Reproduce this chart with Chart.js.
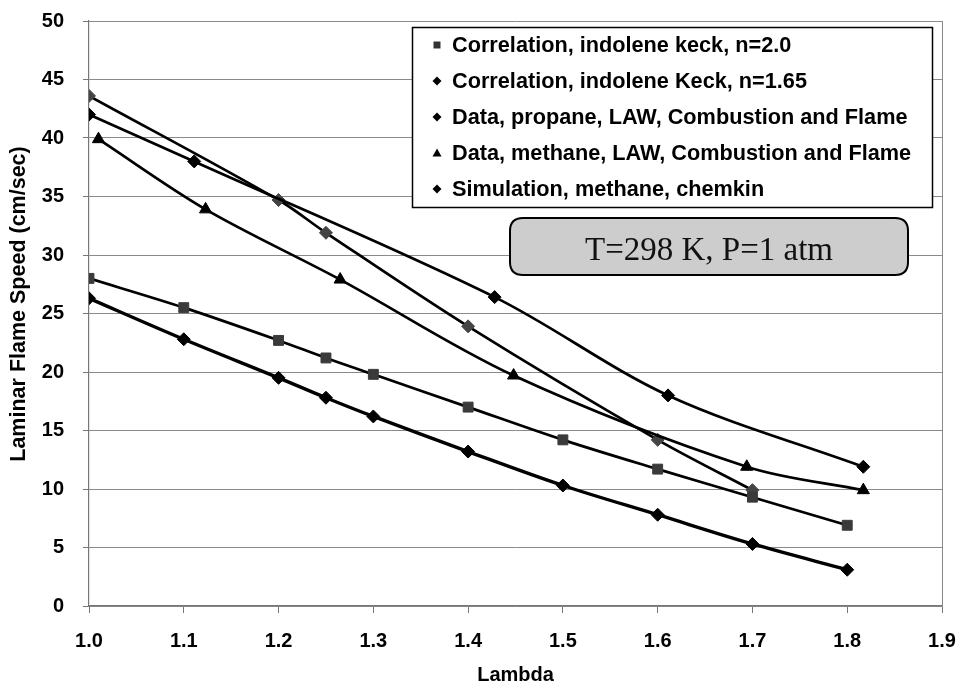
<!DOCTYPE html>
<html>
<head>
<meta charset="utf-8">
<script src="https://cdn.jsdelivr.net/npm/chart.js@4/dist/chart.umd.min.js"></script>
<style>
  html, body { margin: 0; padding: 0; background: #ffffff; }
  #wrap { width: 959px; height: 688px; }
</style>
</head>
<body>
<div id="wrap"><canvas id="c" width="959" height="688"></canvas></div>
<script>
// ---- data ----
const seriesLabels = [
  'Correlation, indolene keck, n=2.0',
  'Correlation, indolene Keck, n=1.65',
  'Data, propane, LAW, Combustion and Flame',
  'Data, methane, LAW, Combustion and Flame',
  'Simulation, methane, chemkin'
];
const lambdaCorr = [1.0, 1.1, 1.2, 1.25, 1.3, 1.4, 1.5, 1.6, 1.7, 1.8];
const corrN20 = [28.0, 25.5, 22.7, 21.2, 19.8, 17.0, 14.2, 11.7, 9.3, 6.9];
const corrN165 = [26.3, 22.8, 19.5, 17.8, 16.2, 13.2, 10.3, 7.8, 5.3, 3.1];
const lambdaPropane = [1.0, 1.111, 1.428, 1.611, 1.817];
const propane = [42.0, 38.0, 26.4, 18.0, 11.9];
const lambdaMethane = [1.01, 1.123, 1.265, 1.448, 1.694, 1.817];
const methane = [39.9, 33.9, 27.9, 19.7, 11.9, 9.9];
const lambdaSim = [1.0, 1.2, 1.25, 1.4, 1.6, 1.7];
const simulation = [43.6, 34.7, 31.9, 23.9, 14.2, 9.9];
const xAxisTitle = 'Lambda';
const yAxisTitle = 'Laminar Flame Speed (cm/sec)';
const annotationText = 'T=298 K, P=1 atm';
const xMin = 1.0, xMax = 1.9, xStep = 0.1;
const yMin = 0, yMax = 50, yStep = 5;

function pts(xs, ys) { return xs.map((x, i) => ({ x: x, y: ys[i] })); }

const FONT = '"Liberation Sans", Arial, sans-serif';

const styles = [
  { pointStyle: 'rect', radius: 7, color: '#3a3a3a', lw: 2.7 },
  { pointStyle: 'rectRot', radius: 6.5, color: '#000000', lw: 3.4 },
  { pointStyle: 'rectRot', radius: 6.5, color: '#000000', lw: 2.7 },
  { pointStyle: 'triangle', radius: 7, color: '#000000', lw: 2.7 },
  { pointStyle: 'rectRot', radius: 6.5, color: '#444444', lw: 2.7 }
];
const seriesData = [
  pts(lambdaCorr, corrN20),
  pts(lambdaCorr, corrN165),
  pts(lambdaPropane, propane),
  pts(lambdaMethane, methane),
  pts(lambdaSim, simulation)
];

const datasets = seriesData.map((d, i) => ({
  label: seriesLabels[i],
  data: d,
  borderColor: '#000000',
  borderWidth: styles[i].lw,
  backgroundColor: styles[i].color,
  pointBackgroundColor: styles[i].color,
  pointBorderColor: styles[i].color,
  pointBorderWidth: 1,
  pointStyle: styles[i].pointStyle,
  pointRadius: styles[i].radius,
  pointHoverRadius: styles[i].radius,
  tension: 0.33,
  fill: false
}));

function drawMarker(ctx, style, x, y, r, color) {
  ctx.save();
  ctx.fillStyle = color;
  ctx.beginPath();
  if (style === 'rect') {
    ctx.rect(x - r, y - r, 2 * r, 2 * r);
  } else if (style === 'rectRot') {
    ctx.moveTo(x, y - r); ctx.lineTo(x + r, y); ctx.lineTo(x, y + r); ctx.lineTo(x - r, y); ctx.closePath();
  } else if (style === 'triangle') {
    ctx.moveTo(x, y - r); ctx.lineTo(x + r, y + r * 0.8); ctx.lineTo(x - r, y + r * 0.8); ctx.closePath();
  }
  ctx.fill();
  ctx.restore();
}

function zeroPad(scale) {
  scale.paddingTop = 0; scale.paddingBottom = 0;
  scale.paddingLeft = 0; scale.paddingRight = 0;
}

const overlayPlugin = {
  id: 'overlay',
  afterDatasetsDraw(chart) {
    const ctx = chart.ctx;
    const ca = chart.chartArea;
    ctx.save();
    // right border of plot area
    ctx.strokeStyle = '#8a8a8a';
    ctx.lineWidth = 1;
    ctx.beginPath();
    ctx.moveTo(ca.right + 0.5, ca.top); ctx.lineTo(ca.right + 0.5, ca.bottom);
    ctx.stroke();

    // y axis title (slightly above the axis centre, as in the reference)
    ctx.save();
    ctx.translate(19, 304);
    ctx.rotate(-Math.PI / 2);
    ctx.font = 'bold 21.5px ' + FONT;
    ctx.fillStyle = '#000000';
    ctx.textAlign = 'center';
    ctx.textBaseline = 'middle';
    ctx.fillText(yAxisTitle, 0, 0);
    ctx.restore();

    // legend box
    const lx = 412, ly = 27, lw = 520, lh = 180;
    ctx.fillStyle = '#ffffff';
    ctx.fillRect(lx, ly, lw, lh);
    ctx.strokeStyle = '#000000';
    ctx.lineWidth = 1.5;
    ctx.strokeRect(lx + 0.5, ly + 0.5, lw, lh);
    ctx.font = 'bold 21.7px ' + FONT;
    ctx.textBaseline = 'middle';
    ctx.textAlign = 'left';
    chart.data.datasets.forEach((ds, i) => {
      const cy = ly + 18 + 36 * i;
      const st = styles[i];
      const mr = st.pointStyle === 'rect' ? 3.5 : 4.5;
      drawMarker(ctx, st.pointStyle, 437, cy, mr, i === 0 ? '#333333' : '#000000');
      ctx.fillStyle = '#000000';
      ctx.fillText(ds.label, 452, cy + 1);
    });

    // annotation box
    const bx = 510, by = 218, bw = 398, bh = 57, rr = 13;
    ctx.beginPath();
    ctx.moveTo(bx + rr, by);
    ctx.lineTo(bx + bw - rr, by);
    ctx.quadraticCurveTo(bx + bw, by, bx + bw, by + rr);
    ctx.lineTo(bx + bw, by + bh - rr);
    ctx.quadraticCurveTo(bx + bw, by + bh, bx + bw - rr, by + bh);
    ctx.lineTo(bx + rr, by + bh);
    ctx.quadraticCurveTo(bx, by + bh, bx, by + bh - rr);
    ctx.lineTo(bx, by + rr);
    ctx.quadraticCurveTo(bx, by, bx + rr, by);
    ctx.closePath();
    ctx.fillStyle = '#cdcdcd';
    ctx.fill();
    ctx.strokeStyle = '#000000';
    ctx.lineWidth = 2;
    ctx.stroke();
    ctx.fillStyle = '#111111';
    ctx.font = '33px "Liberation Serif", "Times New Roman", serif';
    ctx.textAlign = 'center';
    ctx.textBaseline = 'alphabetic';
    ctx.fillText(annotationText, bx + bw / 2, 260);
    ctx.restore();
  }
};

new Chart(document.getElementById('c'), {
  type: 'line',
  data: { datasets: datasets },
  options: {
    responsive: false,
    animation: false,
    devicePixelRatio: 1,
    layout: { padding: { left: 0, top: 21, right: 17, bottom: 0 } },
    plugins: {
      legend: { display: false },
      tooltip: { enabled: false },
      title: { display: false }
    },
    scales: {
      x: {
        type: 'linear',
        min: xMin, max: xMax,
        afterFit(scale) { scale.height = 82; zeroPad(scale); },
        border: { display: true, color: '#777777', width: 1.2 },
        grid: {
          drawOnChartArea: false,
          drawTicks: true,
          tickLength: 7,
          tickColor: '#777777'
        },
        ticks: {
          stepSize: xStep,
          padding: 16,
          color: '#000000',
          font: { family: FONT, size: 20, weight: 'bold' },
          maxRotation: 0,
          callback: (v) => Number(v).toFixed(1)
        },
        title: {
          display: true,
          text: xAxisTitle,
          color: '#000000',
          font: { family: FONT, size: 20, weight: 'bold' },
          padding: { top: 0, bottom: 1 }
        }
      },
      y: {
        type: 'linear',
        min: yMin, max: yMax,
        afterFit(scale) { scale.width = 89; zeroPad(scale); },
        border: { display: true, color: '#777777', width: 1.2 },
        grid: {
          color: '#8a8a8a',
          lineWidth: 1,
          drawTicks: true,
          tickLength: 6,
          tickColor: '#777777'
        },
        ticks: {
          stepSize: yStep,
          padding: 19,
          color: '#000000',
          font: { family: FONT, size: 20, weight: 'bold' }
        },
        title: { display: false, text: yAxisTitle }
      }
    }
  },
  plugins: [overlayPlugin]
});
</script>
</body>
</html>
